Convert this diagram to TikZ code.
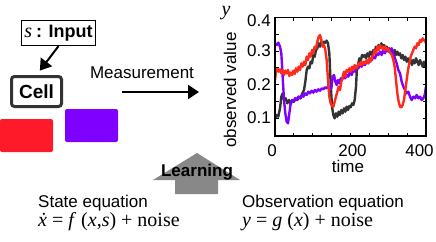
\documentclass[tikz,border=0pt]{standalone}
\usepackage{fontspec}
\setmainfont{Liberation Serif}
\setsansfont{Liberation Sans}
\usetikzlibrary{arrows.meta}
\definecolor{cred}{HTML}{FF2A1A}
\definecolor{cpurple}{HTML}{8000FF}
\definecolor{cdark}{HTML}{333333}
\definecolor{rectred}{HTML}{FF1A2A}
\definecolor{rectpurple}{HTML}{7F00FF}
\definecolor{learngray}{HTML}{888888}
\newcommand{\fsz}[1]{\fontsize{#1}{#1}\selectfont}
\begin{document}
\begin{tikzpicture}[x=1pt,y=-1pt,
  lbl/.style={font=\sffamily\fsz{17}, inner sep=0},
  ticklbl/.style={font=\sffamily\fsz{17}, inner sep=0},
  bigarrow/.style={line width=2, -{Triangle[width=14,length=11]}},
  curve/.style={line width=2.4, line join=round, line cap=round},
  tick/.style={line width=1.1}
]
\useasboundingbox (0,0) rectangle (436,241);

% input and cell
\node[draw, line width=1.3, minimum width=74, minimum height=25, inner sep=0] (input) at (58.5,33)
  {\fsz{20}\textit{s}\hspace{4pt}{\sffamily\bfseries\fsz{18}: Input}};
\node[draw=cdark, line width=3, rounded corners=3, minimum width=50, minimum height=30, inner sep=0,
  font=\sffamily\bfseries\fsz{19}] (cell) at (36.5,91.5) {Cell};
\draw[bigarrow, shorten >=5.5] (input.south) -- (cell.north);

% coloured cells
\fill[rectred, rounded corners=2] (0,119) rectangle (53,152);
\fill[rectpurple, rounded corners=2] (65,109) rectangle (118,142);

% measurement
\node[lbl] (meas) at (142,73) {Measurement};
\coordinate (m1) at (122,92);
\coordinate (m2) at (199,92);
\draw[bigarrow] (m1) -- (m2);

% plot
\begin{scope}
\clip (275,17.5) rectangle (426,136);
\begin{scope}[shift={(220,0)}, x=1/3pt, y=-1/3pt]
\draw[curve, cdark] plot coordinates {(165,355) (170,345) (175,350) (180,325) (184,290) (188,280) (192,300) (197,295) (202,310) (207,300) (212,312) (217,300) (222,305) (227,295) (232,300) (237,290) (242,295) (247,280) (252,270) (256,245) (260,210) (264,200) (268,205) (272,185) (276,190) (280,165) (284,170) (288,150) (292,145) (296,130) (300,140) (304,125) (308,135) (312,125) (316,128) (320,122) (324,130) (328,160) (332,250) (336,320) (340,345) (344,355) (348,340) (352,350) (356,335) (360,345) (364,330) (368,340) (372,325) (376,335) (380,320) (384,330) (388,318) (392,322) (396,310) (400,315) (404,300) (408,260) (411,200) (414,195) (418,175) (422,185) (426,165) (430,170) (434,165) (438,175) (442,160) (446,170) (450,155) (455,165) (460,150) (464,155) (468,140) (472,148) (476,135) (480,140) (484,130) (488,140) (492,135) (496,145) (500,140) (504,150) (508,145) (512,155) (516,150) (520,160) (524,150) (528,165) (532,155) (536,165) (540,160) (544,175) (548,165) (552,180) (556,170) (560,185) (564,175) (568,190) (572,180) (576,195) (580,180) (584,190) (588,175) (592,185) (596,195) (600,180) (604,190) (608,200) (612,185) (616,200) (620,195)};
\draw[curve, cpurple] plot coordinates {(165,130) (170,135) (175,128) (180,140) (184,160) (188,230) (192,300) (196,340) (200,365) (204,370) (208,340) (212,310) (216,300) (220,305) (225,295) (230,300) (235,290) (240,295) (245,285) (250,290) (255,280) (260,285) (265,275) (270,280) (275,272) (280,278) (285,270) (290,275) (295,268) (300,272) (305,265) (310,268) (315,262) (320,265) (325,258) (330,268) (334,265) (338,230) (342,225) (346,245) (350,255) (354,240) (358,250) (362,235) (366,240) (370,230) (375,235) (380,225) (385,230) (390,215) (395,225) (400,210) (405,215) (410,200) (415,205) (420,195) (425,200) (430,190) (435,195) (440,185) (445,190) (450,175) (455,180) (460,170) (465,175) (470,160) (475,165) (480,155) (485,165) (490,150) (495,160) (500,145) (505,155) (510,150) (515,145) (520,160) (525,175) (530,190) (535,210) (540,220) (545,245) (550,260) (555,270) (560,280) (565,275) (570,290) (575,300) (580,290) (585,295) (590,285) (595,295) (600,290) (605,300) (610,295) (614,285) (618,260)};
\draw[curve, cred] plot coordinates {(165,240) (168,215) (172,205) (176,215) (180,208) (184,220) (188,210) (192,225) (196,212) (200,220) (204,210) (208,228) (212,218) (216,225) (220,212) (224,222) (228,205) (232,215) (236,200) (240,210) (244,190) (248,200) (252,185) (256,195) (260,170) (264,180) (268,160) (272,170) (276,150) (280,160) (284,140) (288,145) (292,125) (296,110) (300,105) (304,120) (308,140) (312,135) (316,150) (320,180) (324,240) (328,290) (332,310) (336,318) (340,320) (344,305) (348,290) (352,275) (356,260) (360,270) (364,245) (368,230) (372,215) (376,230) (380,210) (384,215) (388,205) (392,215) (396,200) (400,210) (404,195) (408,205) (412,200) (416,190) (420,195) (424,185) (428,195) (432,185) (436,190) (440,180) (444,190) (448,175) (452,185) (456,170) (460,165) (464,150) (468,160) (472,140) (476,150) (480,135) (484,145) (488,140) (492,150) (496,140) (500,150) (504,145) (508,155) (512,160) (516,165) (520,180) (524,200) (528,240) (532,280) (536,305) (540,320) (544,322) (548,315) (552,300) (556,270) (560,240) (564,210) (568,190) (572,170) (576,160) (580,150) (584,140) (588,145) (592,130) (596,135) (600,120) (604,125) (608,115) (612,120) (616,125) (620,135)};
\end{scope}
\end{scope}
\draw[line width=1.5] (275,17.5) rectangle (426,136);
\foreach \yy in {34.3,51.1,67.9,84.7,101.5,118.3} {
  \draw[tick] (275,\yy) -- ++(3.5,0);
  \draw[tick] (426,\yy) -- ++(-3.5,0);
}
\foreach \k in {1,...,7} {
  \draw[tick] (275+\k*18.875,136) -- ++(0,-3.5);
  \draw[tick] (275+\k*18.875,17.5) -- ++(0,3.5);
}
\node[ticklbl, anchor=east] (t04) at (271,21) {0.4};
\node[ticklbl, anchor=east] (t03) at (271,51) {0.3};
\node[ticklbl, anchor=east] (t02) at (271,85) {0.2};
\node[ticklbl, anchor=east] (t01) at (271,118) {0.1};
\node[ticklbl] (x0) at (272,151) {0};
\node[ticklbl] (x200) at (352.5,151) {200};
\node[ticklbl] (x400) at (419.5,151) {400};
\node[lbl] (time) at (348,166) {time};
\node[lbl, rotate=90] (obs) at (230,90) {observed value};
\node[inner sep=0, font=\fsz{20}\itshape] (ylab) at (226,13) {y};

% learning arrow
\fill[learngray] (175,194) -- (175,180) -- (153,180) -- (197,153) -- (240,180) -- (218,180) -- (218,194) -- cycle;
\node[inner sep=0, font=\sffamily\bfseries\fsz{17}] (learn) at (197,172) {Learning};

% equations
\node[lbl, anchor=base west] (steq) at (38,207) {State equation};
\node[lbl, anchor=base west] (obeq) at (242,207) {Observation equation};
\node[inner sep=0, anchor=base west, font=\fsz{20}] (feq) at (38,226)
  {\textit{\.{x}} = \textit{f} (\textit{x},\textit{s}) + noise};
\node[inner sep=0, anchor=base west, font=\fsz{20}] (geq) at (242,226)
  {\textit{y} = \textit{g} (\textit{x}) + noise};
\end{tikzpicture}
\end{document}
